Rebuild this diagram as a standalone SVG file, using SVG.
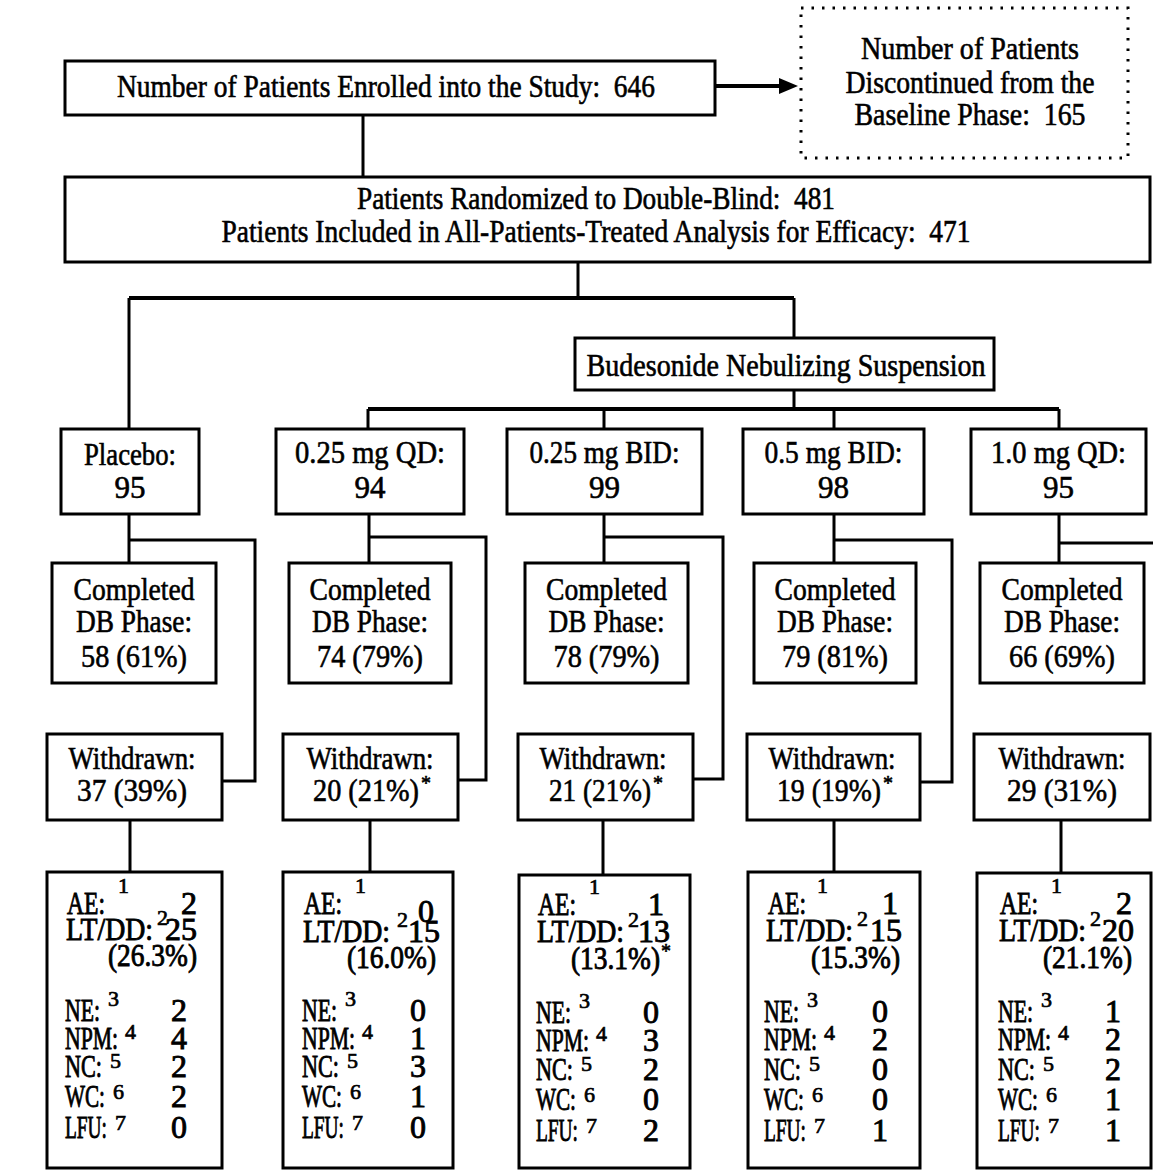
<svg xmlns="http://www.w3.org/2000/svg" width="1153" height="1172" viewBox="0 0 1153 1172">
<style>
.b{fill:#fff;stroke:#000;stroke-width:3}
.d{fill:none;stroke:#000;stroke-width:3;stroke-dasharray:2.5 8}
.c{fill:none;stroke:#000;stroke-width:3}
.c4{fill:none;stroke:#000;stroke-width:4}
text{font-family:"Liberation Serif","Times New Roman",serif;fill:#000;stroke:#000;stroke-width:0.6}
.m{text-anchor:middle;font-size:31px}
.l{font-size:32px;stroke-width:0.9}
.r{font-size:32px;text-anchor:end;stroke-width:0.9}
.s{font-size:22px;stroke-width:0.7}
.a{font-size:20px}
</style>
<rect width="1153" height="1172" fill="#fff"/>
<g id="connectors">
<path class="c4" d="M715,86H782"/>
<polygon points="798,86 779,78 779,94" fill="#000"/>
<path class="c" d="M363,115V177M578,262V298M129,298V429M794,298V338M794,390V409M368,409V429M604,409V429M834,409V429M1059,409V429"/>
<path class="c4" d="M129,298H794M368,409H1059"/>
<path class="c" d="M129,514V563M369,514V563M604,514V563M834,514V563M1059,514V563"/>
<path class="c" d="M129,540H255V781H222M369,537H486V780H458M604,537H723V779H693M834,540H952V782H920M1059,543H1153"/>
<path class="c" d="M130,820V872M370,820V872M603,820V875M834,820V872M1061,820V873"/>
</g>
<g id="enrolled"><rect class="b" x="65" y="61" width="650" height="54"/><text class="m" x="386" y="97" textLength="538" lengthAdjust="spacingAndGlyphs">Number of Patients Enrolled into the Study:&#160; 646</text></g>
<g id="discontinued"><rect class="d" x="801" y="8" width="327" height="150"/>
<text class="m" x="970" y="59" textLength="218" lengthAdjust="spacingAndGlyphs">Number of Patients</text>
<text class="m" x="970" y="93" textLength="249" lengthAdjust="spacingAndGlyphs">Discontinued from the</text>
<text class="m" x="970" y="125" textLength="231" lengthAdjust="spacingAndGlyphs">Baseline Phase:&#160; 165</text></g>
<g id="randomized"><rect class="b" x="65" y="177" width="1085" height="85"/>
<text class="m" x="596" y="209" textLength="478" lengthAdjust="spacingAndGlyphs">Patients Randomized to Double-Blind:&#160; 481</text>
<text class="m" x="596" y="242" textLength="749" lengthAdjust="spacingAndGlyphs">Patients Included in All-Patients-Treated Analysis for Efficacy:&#160; 471</text></g>
<g id="budesonide"><rect class="b" x="575" y="338" width="419" height="52"/><text class="m" x="786" y="376" textLength="399" lengthAdjust="spacingAndGlyphs">Budesonide Nebulizing Suspension</text></g>

<g id="dose-placebo"><rect class="b" x="61" y="429" width="138" height="85"/><text class="m" x="130" y="465" textLength="92" lengthAdjust="spacingAndGlyphs">Placebo:</text><text class="m" x="130" y="498">95</text></g>
<g id="dose-025qd"><rect class="b" x="276" y="429" width="188" height="85"/><text class="m" x="370" y="463" textLength="150" lengthAdjust="spacingAndGlyphs">0.25 mg QD:</text><text class="m" x="370" y="498">94</text></g>
<g id="dose-025bid"><rect class="b" x="507" y="429" width="195" height="85"/><text class="m" x="604.5" y="463" textLength="150" lengthAdjust="spacingAndGlyphs">0.25 mg BID:</text><text class="m" x="604.5" y="498">99</text></g>
<g id="dose-05bid"><rect class="b" x="743" y="429" width="181" height="85"/><text class="m" x="833.5" y="463" textLength="138" lengthAdjust="spacingAndGlyphs">0.5 mg BID:</text><text class="m" x="833.5" y="498">98</text></g>
<g id="dose-10qd"><rect class="b" x="971" y="429" width="175" height="85"/><text class="m" x="1058.5" y="463" textLength="135" lengthAdjust="spacingAndGlyphs">1.0 mg QD:</text><text class="m" x="1058.5" y="498">95</text></g>

<g id="completed-placebo"><rect class="b" x="52" y="563" width="164" height="120"/><text class="m" x="134" y="600" textLength="121" lengthAdjust="spacingAndGlyphs">Completed</text><text class="m" x="134" y="632" textLength="116" lengthAdjust="spacingAndGlyphs">DB Phase:</text><text class="m" x="134" y="667" textLength="106" lengthAdjust="spacingAndGlyphs">58 (61%)</text></g>
<g id="completed-025qd"><rect class="b" x="289" y="563" width="162" height="120"/><text class="m" x="370" y="600" textLength="121" lengthAdjust="spacingAndGlyphs">Completed</text><text class="m" x="370" y="632" textLength="116" lengthAdjust="spacingAndGlyphs">DB Phase:</text><text class="m" x="370" y="667" textLength="106" lengthAdjust="spacingAndGlyphs">74 (79%)</text></g>
<g id="completed-025bid"><rect class="b" x="525" y="563" width="163" height="120"/><text class="m" x="606.5" y="600" textLength="121" lengthAdjust="spacingAndGlyphs">Completed</text><text class="m" x="606.5" y="632" textLength="116" lengthAdjust="spacingAndGlyphs">DB Phase:</text><text class="m" x="606.5" y="667" textLength="106" lengthAdjust="spacingAndGlyphs">78 (79%)</text></g>
<g id="completed-05bid"><rect class="b" x="754" y="563" width="162" height="120"/><text class="m" x="835" y="600" textLength="121" lengthAdjust="spacingAndGlyphs">Completed</text><text class="m" x="835" y="632" textLength="116" lengthAdjust="spacingAndGlyphs">DB Phase:</text><text class="m" x="835" y="667" textLength="106" lengthAdjust="spacingAndGlyphs">79 (81%)</text></g>
<g id="completed-10qd"><rect class="b" x="980" y="563" width="164" height="120"/><text class="m" x="1062" y="600" textLength="121" lengthAdjust="spacingAndGlyphs">Completed</text><text class="m" x="1062" y="632" textLength="116" lengthAdjust="spacingAndGlyphs">DB Phase:</text><text class="m" x="1062" y="667" textLength="106" lengthAdjust="spacingAndGlyphs">66 (69%)</text></g>

<g id="withdrawn-placebo"><rect class="b" x="47" y="734" width="175" height="86"/><text class="m" x="132" y="769" textLength="127" lengthAdjust="spacingAndGlyphs">Withdrawn:</text><text class="m" x="132" y="801" textLength="110" lengthAdjust="spacingAndGlyphs">37 (39%)</text></g>
<g id="withdrawn-025qd"><rect class="b" x="283" y="734" width="175" height="86"/><text class="m" x="370" y="769" textLength="127" lengthAdjust="spacingAndGlyphs">Withdrawn:</text><text class="m" x="366" y="801" textLength="106" lengthAdjust="spacingAndGlyphs">20 (21%)</text><text class="a" x="421" y="790">*</text></g>
<g id="withdrawn-025bid"><rect class="b" x="518" y="734" width="175" height="86"/><text class="m" x="603" y="769" textLength="127" lengthAdjust="spacingAndGlyphs">Withdrawn:</text><text class="m" x="600" y="801" textLength="102" lengthAdjust="spacingAndGlyphs">21 (21%)</text><text class="a" x="653" y="790">*</text></g>
<g id="withdrawn-05bid"><rect class="b" x="747" y="734" width="173" height="86"/><text class="m" x="832" y="769" textLength="127" lengthAdjust="spacingAndGlyphs">Withdrawn:</text><text class="m" x="829" y="801" textLength="104" lengthAdjust="spacingAndGlyphs">19 (19%)</text><text class="a" x="883" y="790">*</text></g>
<g id="withdrawn-10qd"><rect class="b" x="974" y="734" width="176" height="86"/><text class="m" x="1062" y="769" textLength="127" lengthAdjust="spacingAndGlyphs">Withdrawn:</text><text class="m" x="1062" y="801" textLength="110" lengthAdjust="spacingAndGlyphs">29 (31%)</text></g>

<g id="reasons-placebo"><rect class="b" x="47" y="872" width="175" height="296"/>
<text class="l" x="67" y="914" textLength="38" lengthAdjust="spacingAndGlyphs">AE:</text><text class="s" x="118" y="893">1</text><text class="r" x="197" y="914">2</text>
<text class="l" x="66" y="940" textLength="87" lengthAdjust="spacingAndGlyphs">LT/DD:</text><text class="s" x="157" y="925">2</text><text class="r" x="197" y="940">25</text>
<text class="r" x="197" y="966" textLength="89" lengthAdjust="spacingAndGlyphs">(26.3%)</text>
<text class="l" x="65" y="1021" textLength="35" lengthAdjust="spacingAndGlyphs">NE:</text><text class="s" x="108" y="1006">3</text><text class="r" x="187" y="1021">2</text>
<text class="l" x="65" y="1049" textLength="53" lengthAdjust="spacingAndGlyphs">NPM:</text><text class="s" x="125" y="1039">4</text><text class="r" x="187" y="1049">4</text>
<text class="l" x="65" y="1077" textLength="37" lengthAdjust="spacingAndGlyphs">NC:</text><text class="s" x="110" y="1068">5</text><text class="r" x="187" y="1077">2</text>
<text class="l" x="65" y="1107" textLength="40" lengthAdjust="spacingAndGlyphs">WC:</text><text class="s" x="113" y="1099">6</text><text class="r" x="187" y="1107">2</text>
<text class="l" x="65" y="1138" textLength="42" lengthAdjust="spacingAndGlyphs">LFU:</text><text class="s" x="115" y="1130">7</text><text class="r" x="187" y="1138">0</text></g>

<g id="reasons-025qd"><rect class="b" x="283" y="872" width="170" height="296"/>
<text class="l" x="304" y="914" textLength="38" lengthAdjust="spacingAndGlyphs">AE:</text><text class="s" x="355" y="893">1</text><text class="r" x="434" y="922">0</text>
<text class="l" x="303" y="942" textLength="87" lengthAdjust="spacingAndGlyphs">LT/DD:</text><text class="s" x="397" y="927">2</text><text class="r" x="440" y="942">15</text>
<text class="r" x="436" y="968" textLength="89" lengthAdjust="spacingAndGlyphs">(16.0%)</text>
<text class="l" x="302" y="1021" textLength="35" lengthAdjust="spacingAndGlyphs">NE:</text><text class="s" x="345" y="1006">3</text><text class="r" x="426" y="1021">0</text>
<text class="l" x="302" y="1049" textLength="53" lengthAdjust="spacingAndGlyphs">NPM:</text><text class="s" x="362" y="1039">4</text><text class="r" x="426" y="1049">1</text>
<text class="l" x="302" y="1077" textLength="37" lengthAdjust="spacingAndGlyphs">NC:</text><text class="s" x="347" y="1068">5</text><text class="r" x="426" y="1077">3</text>
<text class="l" x="302" y="1107" textLength="40" lengthAdjust="spacingAndGlyphs">WC:</text><text class="s" x="350" y="1099">6</text><text class="r" x="426" y="1107">1</text>
<text class="l" x="302" y="1138" textLength="42" lengthAdjust="spacingAndGlyphs">LFU:</text><text class="s" x="352" y="1130">7</text><text class="r" x="426" y="1138">0</text></g>

<g id="reasons-025bid"><rect class="b" x="519" y="875" width="171" height="293"/>
<text class="l" x="538" y="915" textLength="38" lengthAdjust="spacingAndGlyphs">AE:</text><text class="s" x="589" y="894">1</text><text class="r" x="664" y="915">1</text>
<text class="l" x="537" y="942" textLength="87" lengthAdjust="spacingAndGlyphs">LT/DD:</text><text class="s" x="628" y="927">2</text><text class="r" x="670" y="942">13</text>
<text class="r" x="660" y="969" textLength="89" lengthAdjust="spacingAndGlyphs">(13.1%)</text><text class="a" x="661" y="958">*</text>
<text class="l" x="536" y="1023" textLength="35" lengthAdjust="spacingAndGlyphs">NE:</text><text class="s" x="579" y="1008">3</text><text class="r" x="659" y="1023">0</text>
<text class="l" x="536" y="1051" textLength="53" lengthAdjust="spacingAndGlyphs">NPM:</text><text class="s" x="596" y="1041">4</text><text class="r" x="659" y="1051">3</text>
<text class="l" x="536" y="1080" textLength="37" lengthAdjust="spacingAndGlyphs">NC:</text><text class="s" x="581" y="1071">5</text><text class="r" x="659" y="1080">2</text>
<text class="l" x="536" y="1110" textLength="40" lengthAdjust="spacingAndGlyphs">WC:</text><text class="s" x="584" y="1102">6</text><text class="r" x="659" y="1110">0</text>
<text class="l" x="536" y="1141" textLength="42" lengthAdjust="spacingAndGlyphs">LFU:</text><text class="s" x="586" y="1133">7</text><text class="r" x="659" y="1141">2</text></g>

<g id="reasons-05bid"><rect class="b" x="748" y="872" width="172" height="296"/>
<text class="l" x="768" y="914" textLength="38" lengthAdjust="spacingAndGlyphs">AE:</text><text class="s" x="817" y="893">1</text><text class="r" x="898" y="914">1</text>
<text class="l" x="766" y="941" textLength="87" lengthAdjust="spacingAndGlyphs">LT/DD:</text><text class="s" x="857" y="926">2</text><text class="r" x="902" y="941">15</text>
<text class="r" x="900" y="968" textLength="89" lengthAdjust="spacingAndGlyphs">(15.3%)</text>
<text class="l" x="764" y="1022" textLength="35" lengthAdjust="spacingAndGlyphs">NE:</text><text class="s" x="807" y="1007">3</text><text class="r" x="888" y="1022">0</text>
<text class="l" x="764" y="1050" textLength="53" lengthAdjust="spacingAndGlyphs">NPM:</text><text class="s" x="824" y="1040">4</text><text class="r" x="888" y="1050">2</text>
<text class="l" x="764" y="1080" textLength="37" lengthAdjust="spacingAndGlyphs">NC:</text><text class="s" x="809" y="1071">5</text><text class="r" x="888" y="1080">0</text>
<text class="l" x="764" y="1110" textLength="40" lengthAdjust="spacingAndGlyphs">WC:</text><text class="s" x="812" y="1102">6</text><text class="r" x="888" y="1110">0</text>
<text class="l" x="764" y="1141" textLength="42" lengthAdjust="spacingAndGlyphs">LFU:</text><text class="s" x="814" y="1133">7</text><text class="r" x="888" y="1141">1</text></g>

<g id="reasons-10qd"><rect class="b" x="977" y="873" width="174" height="295"/>
<text class="l" x="1000" y="914" textLength="38" lengthAdjust="spacingAndGlyphs">AE:</text><text class="s" x="1051" y="893">1</text><text class="r" x="1132" y="914">2</text>
<text class="l" x="999" y="941" textLength="87" lengthAdjust="spacingAndGlyphs">LT/DD:</text><text class="s" x="1090" y="926">2</text><text class="r" x="1134" y="941">20</text>
<text class="r" x="1132" y="968" textLength="89" lengthAdjust="spacingAndGlyphs">(21.1%)</text>
<text class="l" x="998" y="1022" textLength="35" lengthAdjust="spacingAndGlyphs">NE:</text><text class="s" x="1041" y="1007">3</text><text class="r" x="1121" y="1022">1</text>
<text class="l" x="998" y="1050" textLength="53" lengthAdjust="spacingAndGlyphs">NPM:</text><text class="s" x="1058" y="1040">4</text><text class="r" x="1121" y="1050">2</text>
<text class="l" x="998" y="1080" textLength="37" lengthAdjust="spacingAndGlyphs">NC:</text><text class="s" x="1043" y="1071">5</text><text class="r" x="1121" y="1080">2</text>
<text class="l" x="998" y="1110" textLength="40" lengthAdjust="spacingAndGlyphs">WC:</text><text class="s" x="1046" y="1102">6</text><text class="r" x="1121" y="1110">1</text>
<text class="l" x="998" y="1141" textLength="42" lengthAdjust="spacingAndGlyphs">LFU:</text><text class="s" x="1048" y="1133">7</text><text class="r" x="1121" y="1141">1</text></g>
</svg>
